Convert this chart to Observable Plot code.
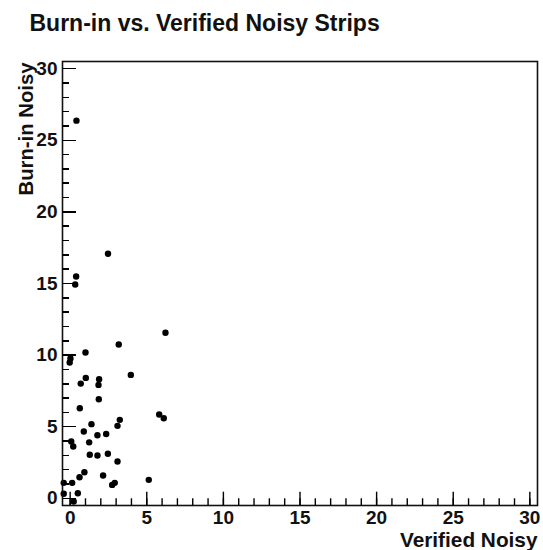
<!DOCTYPE html>
<html>
<head>
<meta charset="utf-8">
<script src="https://cdn.jsdelivr.net/npm/d3@7"></script>
<script src="https://cdn.jsdelivr.net/npm/@observablehq/plot@0.6"></script>
<style>
  html, body { margin: 0; padding: 0; background: #fff; }
</style>
</head>
<body>
<div id="chart"></div>
<script>
// Data (x = Verified Noisy, y = Burn-in Noisy)
const verifiedNoisy = [0.41, 2.47, 0.39, 0.33, 6.22, 3.17, 1.00, 0.02, -0.03, 3.96, 1.02, 1.89, 0.69, 1.85, 1.87, 0.63, 5.81, 6.11, 3.24, 3.09, 1.39, 0.89, 2.35, 1.78, 0.07, 0.20, 1.24, 1.28, 1.78, 2.46, 3.09, 0.93, 0.61, 2.15, 5.13, 2.91, 2.74, -0.42, 0.13, -0.42, 0.50, 0.23];
const burninNoisy   = [26.37, 17.08, 15.49, 14.93, 11.56, 10.74, 10.18, 9.76, 9.48, 8.62, 8.41, 8.32, 8.01, 7.92, 6.92, 6.29, 5.85, 5.59, 5.48, 5.06, 5.18, 4.67, 4.49, 4.41, 3.97, 3.62, 3.91, 3.04, 2.99, 3.11, 2.57, 1.82, 1.47, 1.59, 1.29, 1.08, 0.94, 1.08, 1.08, 0.32, 0.36, -0.22];
const majorTicks = [0, 5, 10, 15, 20, 25, 30];
const minorTicks = d3.range(0, 31);
const titleText = "Burn-in vs. Verified Noisy Strips";
const xTitle = "Verified Noisy";
const yTitle = "Burn-in Noisy";

const points = verifiedNoisy.map((v, i) => ({x: v, y: burninNoisy[i]}));

const W = 543, H = 550;
const mL = 62, mR = 6, mT = 61, mB = 45;
const innerW = W - mL - mR, innerH = H - mT - mB;

const chart = Plot.plot({
  width: W,
  height: H,
  marginLeft: mL,
  marginRight: mR,
  marginTop: mT,
  marginBottom: mB,
  style: {fontFamily: "Liberation Sans, Arial, sans-serif", fontWeight: "bold", fontSize: "19px", background: "#fff", color: "#111"},
  x: {domain: [-0.5, 30.5]},
  y: {domain: [-0.5, 30.5]},
  marks: [
    Plot.axisX(majorTicks, {tickSize: 0, tickPadding: 5, label: null, fontSize: 19, fill: "#111"}),
    Plot.axisY(majorTicks, {tickSize: 0, tickPadding: 5, label: null, fontSize: 19, fill: "#111"}),
    Plot.dot(points, {x: "x", y: "y", r: 3.2, fill: "#000", stroke: "none"}),
    Plot.frame({stroke: "#111", strokeWidth: 1.6}),
    // inward ticks (ROOT style), drawn on top of the frame
    Plot.tickY(majorTicks, {y: d => d, insetRight: innerW - 14.2, stroke: "black", strokeWidth: 1.5, shapeRendering: "crispEdges"}),
    Plot.tickY(minorTicks, {y: d => d, insetRight: innerW - 7.1, stroke: "black", strokeWidth: 1.5, shapeRendering: "crispEdges"}),
    Plot.ruleX(majorTicks, {x: d => d, insetTop: innerH - 13.3, stroke: "black", strokeWidth: 1.4}),
    Plot.ruleX(minorTicks, {x: d => d, insetTop: innerH - 6.7, stroke: "black", strokeWidth: 1.4}),
    Plot.text([titleText], {frameAnchor: "top-left", text: d => d, textAnchor: "start", lineAnchor: "bottom", dx: 29 - mL, dy: 30.5 - mT, fontSize: 23, fill: "#111"}),
    Plot.text([xTitle], {frameAnchor: "bottom-right", text: d => d, textAnchor: "end", lineAnchor: "bottom", dx: 0, dy: 546.5 - (H - mB), fontSize: 20.8, fill: "#111"}),
    Plot.text([yTitle], {frameAnchor: "top-left", text: d => d, textAnchor: "end", lineAnchor: "bottom", rotate: -90, dx: 32.5 - mL, dy: 1, fontSize: 20.3, fill: "#111"})
  ]
});

document.getElementById("chart").appendChild(chart);
</script>
</body>
</html>
